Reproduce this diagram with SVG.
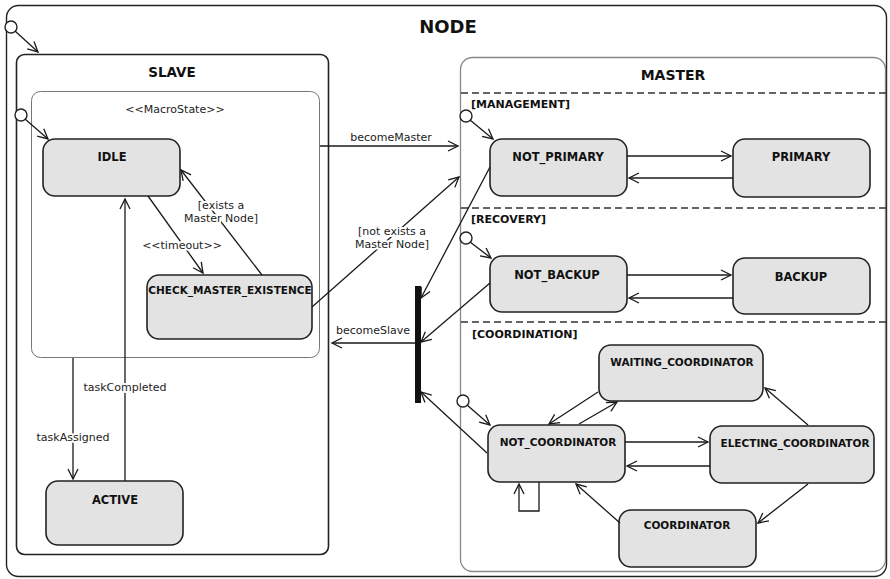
<svg xmlns="http://www.w3.org/2000/svg" width="890" height="579" viewBox="0 0 890 579">
<defs>
<marker id="arr" markerUnits="userSpaceOnUse" markerWidth="14" markerHeight="14" refX="11" refY="6" orient="auto">
<path d="M1,1 L11,6 L1,11" fill="none" stroke="#1a1a1a" stroke-width="1.3"/>
</marker>
<style>
.st{fill:#e3e3e3;stroke:#222;stroke-width:1.6}
.nm{font-family:"DejaVu Sans",Verdana,sans-serif;font-weight:bold;font-size:11.5px;fill:#111;text-anchor:middle}
.nms{font-family:"DejaVu Sans",Verdana,sans-serif;font-weight:bold;font-size:10.5px;fill:#111;text-anchor:middle}
.lb{font-family:"DejaVu Sans",Verdana,sans-serif;font-size:11px;fill:#222;text-anchor:middle;stroke:#fff;stroke-width:4;paint-order:stroke;stroke-linejoin:round}
.rg{font-family:"DejaVu Sans",Verdana,sans-serif;font-weight:bold;font-size:11px;fill:#111}
.ttl{font-family:"DejaVu Sans",Verdana,sans-serif;font-weight:bold;fill:#111;text-anchor:middle}
.ini{fill:#fff;stroke:#222;stroke-width:1.4}
.cn line,.cn path,.cn polyline{stroke:#1a1a1a;stroke-width:1.3;fill:none}
.a{marker-end:url(#arr)}
.dash{stroke:#333;stroke-width:1.5;stroke-dasharray:7,4}
</style>
</defs>
<rect width="890" height="579" fill="#fff"/>
<g id="NODE">
<rect x="6.5" y="5.5" width="880" height="571" rx="12" fill="none" stroke="#222" stroke-width="1.4"/>
<text class="ttl" x="448" y="33" font-size="18">NODE</text>
<circle class="ini" cx="11" cy="27" r="6"/>
</g>
<g id="SLAVE">
<rect x="16.5" y="54.5" width="312" height="500" rx="8" fill="none" stroke="#222" stroke-width="1.6"/>
<text class="ttl" x="172" y="77" font-size="13.5">SLAVE</text>
</g>
<g id="MacroState">
<rect x="31.5" y="91.5" width="288" height="266" rx="9" fill="none" stroke="#777" stroke-width="1"/>
<text class="lb" x="175" y="113">&lt;&lt;MacroState&gt;&gt;</text>
<circle class="ini" cx="21" cy="115" r="6"/>
</g>
<g id="IDLE"><rect class="st" x="43" y="139" width="137" height="57" rx="12"/><text class="nm" x="112" y="161">IDLE</text></g>
<g id="CHECK_MASTER_EXISTENCE"><rect class="st" x="147" y="275" width="165" height="64" rx="12"/><text class="nms" x="230" y="294" font-size="10px">CHECK_MASTER_EXISTENCE</text></g>
<g id="ACTIVE"><rect class="st" x="46" y="481" width="137" height="64" rx="12"/><text class="nm" x="115" y="504">ACTIVE</text></g>
<g id="MASTER">
<rect x="460.5" y="57.5" width="425" height="514" rx="12" fill="none" stroke="#888" stroke-width="1.3"/>
<text class="ttl" x="673" y="80" font-size="14">MASTER</text>
<line class="dash" x1="461" y1="93" x2="886" y2="93"/>
<line class="dash" x1="461" y1="208" x2="886" y2="208"/>
<line class="dash" x1="461" y1="322" x2="886" y2="322"/>
<text class="rg" x="471" y="108">[MANAGEMENT]</text>
<text class="rg" x="471" y="223">[RECOVERY]</text>
<text class="rg" x="472" y="338">[COORDINATION]</text>
<circle class="ini" cx="466" cy="116" r="6"/>
<circle class="ini" cx="466" cy="238" r="6"/>
<circle class="ini" cx="463" cy="401" r="6"/>
</g>
<g id="NOT_PRIMARY"><rect class="st" x="490" y="139" width="137" height="57" rx="12"/><text class="nm" x="558" y="161">NOT_PRIMARY</text></g>
<g id="PRIMARY"><rect class="st" x="733" y="139" width="137" height="58" rx="12"/><text class="nm" x="801" y="161">PRIMARY</text></g>
<g id="NOT_BACKUP"><rect class="st" x="490" y="256" width="137" height="56" rx="12"/><text class="nm" x="557" y="279">NOT_BACKUP</text></g>
<g id="BACKUP"><rect class="st" x="733" y="258" width="137" height="56" rx="12"/><text class="nm" x="801" y="281">BACKUP</text></g>
<g id="WAITING_COORDINATOR"><rect class="st" x="599" y="345" width="164" height="56" rx="12"/><text class="nms" x="682" y="366">WAITING_COORDINATOR</text></g>
<g id="NOT_COORDINATOR"><rect class="st" x="488" y="425" width="137" height="57" rx="12"/><text class="nms" x="558" y="446">NOT_COORDINATOR</text></g>
<g id="ELECTING_COORDINATOR"><rect class="st" x="710" y="426" width="164" height="57" rx="12"/><text class="nms" x="795" y="447">ELECTING_COORDINATOR</text></g>
<g id="COORDINATOR"><rect class="st" x="619" y="510" width="137" height="57" rx="12"/><text class="nms" x="687" y="529">COORDINATOR</text></g>
<g id="fork"><rect x="415" y="286" width="6" height="117" fill="#111"/></g>
<g id="connectors" class="cn">
<line class="a" x1="15" y1="31" x2="38" y2="52"/>
<line class="a" x1="25" y1="119" x2="48" y2="139"/>
<line class="a" x1="148" y1="196" x2="203" y2="273"/>
<line class="a" x1="262" y1="275" x2="181" y2="170"/>
<line class="a" x1="73" y1="358" x2="73" y2="479"/>
<line class="a" x1="125" y1="481" x2="125" y2="199"/>
<line class="a" x1="320" y1="146" x2="458" y2="146"/>
<line class="a" x1="312" y1="307" x2="459" y2="177"/>
<line class="a" x1="415" y1="343" x2="332" y2="343"/>
<line class="a" x1="490" y1="167" x2="421" y2="298"/>
<line class="a" x1="490" y1="283" x2="421" y2="342"/>
<line class="a" x1="487" y1="453" x2="421" y2="392"/>
<line class="a" x1="470" y1="120" x2="493" y2="139"/>
<line class="a" x1="470" y1="242" x2="491" y2="258"/>
<line class="a" x1="467" y1="405" x2="490" y2="425"/>
<line class="a" x1="627" y1="156" x2="731" y2="156"/>
<line class="a" x1="733" y1="178" x2="629" y2="178"/>
<line class="a" x1="627" y1="275" x2="731" y2="275"/>
<line class="a" x1="733" y1="298" x2="629" y2="298"/>
<line class="a" x1="625" y1="442" x2="708" y2="442"/>
<line class="a" x1="710" y1="466" x2="627" y2="466"/>
<line class="a" x1="598" y1="392" x2="549" y2="424"/>
<line class="a" x1="579" y1="424" x2="617" y2="402"/>
<line class="a" x1="808" y1="425" x2="765" y2="388"/>
<line class="a" x1="808" y1="484" x2="758" y2="523"/>
<line class="a" x1="620" y1="523" x2="576" y2="484"/>
<polyline class="a" points="539,482 539,511 519,511 519,484"/>
</g>
<g id="labels">
<text class="lb" x="182" y="249">&lt;&lt;timeout&gt;&gt;</text>
<text class="lb" x="221" y="209">[exists a</text>
<text class="lb" x="221" y="222">Master Node]</text>
<text class="lb" x="73" y="441">taskAssigned</text>
<text class="lb" x="125" y="391">taskCompleted</text>
<text class="lb" x="391" y="141">becomeMaster</text>
<text class="lb" x="392" y="235">[not exists a</text>
<text class="lb" x="392" y="248">Master Node]</text>
<text class="lb" x="373" y="334">becomeSlave</text>
</g>
</svg>
